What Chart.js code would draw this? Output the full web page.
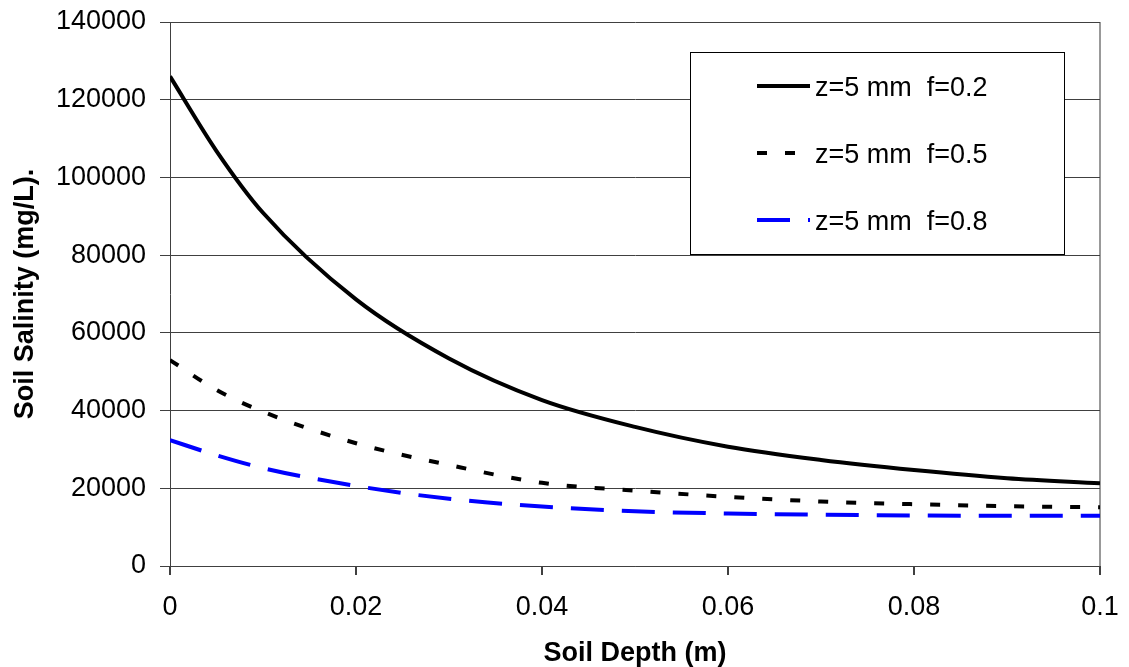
<!DOCTYPE html>
<html>
<head>
<meta charset="utf-8">
<script src="https://cdn.jsdelivr.net/npm/chart.js@4.4.0/dist/chart.umd.min.js"></script>
<style>
  html, body { margin: 0; padding: 0; background: #fff; }
  #wrap { width: 1129px; height: 667px; }
</style>
</head>
<body>
<div id="wrap"><canvas id="grafico"></canvas></div>
<script>
/* Soil salinity profile vs depth, three f values at z=5 mm */

const DEPTH = [0, 0.005, 0.01, 0.02, 0.03, 0.04, 0.05, 0.06, 0.07, 0.08, 0.09, 0.1];
const SAL_F02 = [126000, 106800, 90900, 68600, 53400, 42700, 35800, 30700, 27300, 24700, 22600, 21300];
const SAL_F05 = [53000, 45300, 39700, 31600, 26000, 21400, 19400, 17800, 16600, 15900, 15400, 15100];
const SAL_F08 = [32400, 28500, 25200, 20600, 17300, 15300, 14100, 13500, 13200, 13000, 12900, 12900];
const LABELS = ["z=5 mm  f=0.2", "z=5 mm  f=0.5", "z=5 mm  f=0.8"];
const Y_TICKS = [0, 20000, 40000, 60000, 80000, 100000, 120000, 140000];
const X_TICKS = [0, 0.02, 0.04, 0.06, 0.08, 0.1];

const FONTE = "'Liberation Sans', Arial, sans-serif";

const pontos = serie => DEPTH.map((d, i) => ({ x: d, y: serie[i] }));

// legend drawn by hand, Excel style box inside the plot
const legendaCaixa = {
  id: "legendaCaixa",
  afterDraw(chart) {
    const { ctx, chartArea } = chart;
    const x0 = chartArea.left + 520, y0 = chartArea.top + 30;
    const w = 374, h = 202;
    ctx.save();
    ctx.fillStyle = "#fff";
    ctx.fillRect(x0, y0, w, h);
    ctx.strokeStyle = "#000";
    ctx.lineWidth = 1;
    ctx.strokeRect(x0 + 0.5, y0 + 0.5, w, h);
    chart.data.datasets.forEach((ds, i) => {
      const yy = y0 + 34 + i * 67;
      ctx.beginPath();
      ctx.setLineDash(ds.borderDash || []);
      ctx.strokeStyle = ds.borderColor;
      ctx.lineWidth = ds.borderWidth;
      ctx.moveTo(x0 + 67, yy);
      ctx.lineTo(x0 + 120, yy);
      ctx.stroke();
      ctx.setLineDash([]);
      ctx.fillStyle = "#000";
      ctx.font = `27px ${FONTE}`;
      ctx.textBaseline = "middle";
      ctx.fillText(ds.label, x0 + 125, yy + 3);
    });
    ctx.restore();
  },
};

new Chart(document.getElementById("grafico"), {
  type: "line",
  data: {
    datasets: [
      { label: LABELS[0], data: pontos(SAL_F02), borderColor: "#000", borderWidth: 4,
        pointRadius: 0, fill: false, cubicInterpolationMode: "monotone" },
      { label: LABELS[1], data: pontos(SAL_F05), borderColor: "#000", borderWidth: 4,
        borderDash: [10, 18], pointRadius: 0, fill: false, cubicInterpolationMode: "monotone" },
      { label: LABELS[2], data: pontos(SAL_F08), borderColor: "#0000ff", borderWidth: 4,
        borderDash: [33, 18], pointRadius: 0, fill: false, cubicInterpolationMode: "monotone" },
    ],
  },
  options: {
    responsive: true,
    maintainAspectRatio: false,
    animation: false,
    events: [],
    layout: { padding: { top: 22, right: 29, left: 0, bottom: 0 } },
    plugins: { legend: { display: false }, tooltip: { enabled: false } },
    scales: {
      x: {
        type: "linear",
        min: 0, max: 0.1,
        // fixed axis band; labels may overhang into the page padding
        afterFit: s => { s.height = 101; s.paddingLeft = 0; s.paddingRight = 0; },
        afterBuildTicks: s => { s.ticks = X_TICKS.map(v => ({ value: v })); },
        ticks: {
          color: "#000", font: { family: FONTE, size: 27 }, padding: 16,
          callback: v => String(Number(v.toFixed(2))),
        },
        grid: {
          drawOnChartArea: true, tickLength: 9, tickColor: "#404040",
          color: c => (c.tick && c.tick.value === 0.1 ? "#999" : "rgba(0,0,0,0)"),
          lineWidth: 2,
        },
        border: { display: true, color: "#404040", width: 1 },
        title: { display: true, text: "Soil Depth (m)", color: "#000",
                 font: { family: FONTE, size: 27, weight: "bold", lineHeight: 1 }, padding: 0 },
      },
      y: {
        min: 0, max: 140000,
        afterFit: s => { s.width = 170; s.paddingTop = 0; s.paddingBottom = 0; },
        afterBuildTicks: s => { s.ticks = Y_TICKS.map(v => ({ value: v })); },
        ticks: { color: "#000", font: { family: FONTE, size: 27 }, padding: 14,
                 callback: v => String(v) },
        grid: { color: "#404040", lineWidth: 1, tickLength: 10, tickColor: "#404040" },
        border: { display: true, color: "#404040", width: 1 },
        title: { display: true, text: "Soil Salinity (mg/L).", color: "#000",
                 font: { family: FONTE, size: 27, weight: "bold", lineHeight: 1 },
                 padding: { top: 12, bottom: 0 } },
      },
    },
  },
  plugins: [legendaCaixa],
});
</script>
</body>
</html>
